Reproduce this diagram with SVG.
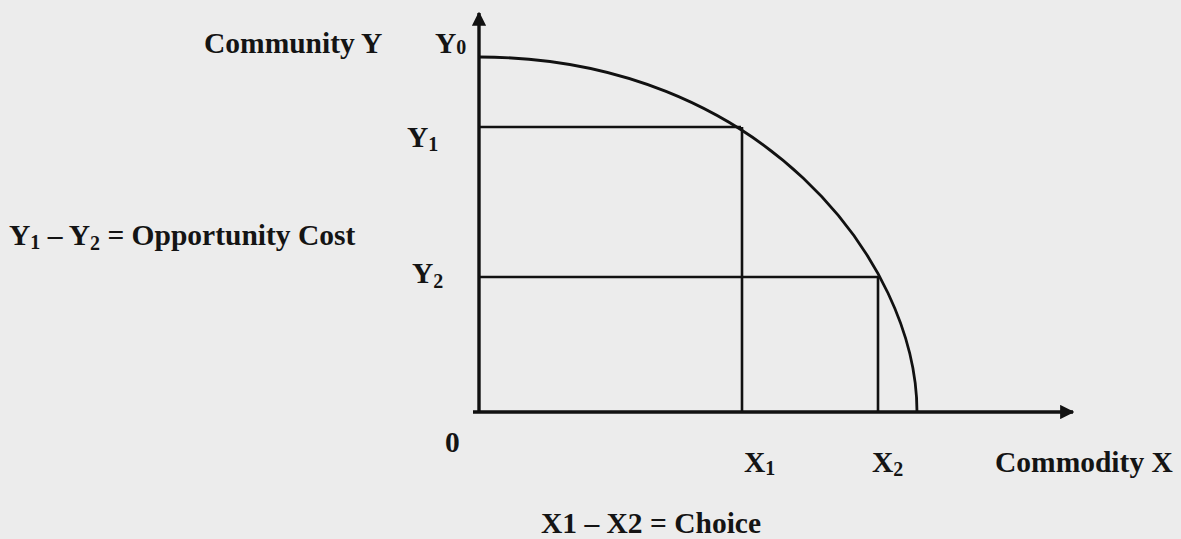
<svg xmlns="http://www.w3.org/2000/svg" width="1181" height="539" viewBox="0 0 1181 539">
<defs>
<style>
.t{font-family:"Liberation Serif","Times New Roman",serif;font-weight:bold;font-size:29.5px;fill:#141414}
.s{font-size:20px}
.ax{stroke:#111;stroke-width:3.4;fill:none}
.ln{stroke:#111;stroke-width:2.6;fill:none}
.cv{stroke:#111;stroke-width:2.8;fill:none}
</style>
<marker id="arr" viewBox="0 0 10 10" refX="9" refY="5" markerWidth="4.2" markerHeight="4.2" markerUnits="strokeWidth" orient="auto">
<path d="M0,0 L10,5 L0,10 z" fill="#111"/>
</marker>
</defs>
<rect width="1181" height="539" fill="#ececec"/>
<g id="connectors">
<line class="ax" x1="479" y1="413" x2="479" y2="13" marker-end="url(#arr)"/>
<line class="ax" x1="473" y1="412" x2="1073" y2="412" marker-end="url(#arr)"/>
<path class="cv" d="M479,57 C760,57 917,262 917,412"/>
<line class="ln" x1="479" y1="127" x2="741" y2="127"/>
<line class="ln" x1="742" y1="127" x2="742" y2="412"/>
<line class="ln" x1="479" y1="277" x2="878" y2="277"/>
<line class="ln" x1="878" y1="277" x2="878" y2="412"/>
</g>
<g id="label-community-y"><text class="t" x="204" y="53">Community Y</text></g>
<g id="label-y0"><text class="t" x="435" y="53">Y<tspan class="s" dy="1">0</tspan></text></g>
<g id="label-y1"><text class="t" x="407" y="147">Y<tspan class="s" dy="4">1</tspan></text></g>
<g id="label-y2"><text class="t" x="412" y="283">Y<tspan class="s" dy="5">2</tspan></text></g>
<g id="label-opportunity"><text class="t" x="9" y="245">Y<tspan class="s" dy="4">1</tspan><tspan dy="-4"> – Y</tspan><tspan class="s" dy="5">2</tspan><tspan dy="-5"> = Opportunity Cost</tspan></text></g>
<g id="label-origin"><text class="t" x="445" y="452">0</text></g>
<g id="label-x1"><text class="t" x="744" y="472">X<tspan class="s" dy="3">1</tspan></text></g>
<g id="label-x2"><text class="t" x="872" y="472">X<tspan class="s" dy="4">2</tspan></text></g>
<g id="label-commodity-x"><text class="t" x="995" y="472">Commodity X</text></g>
<g id="label-choice"><text class="t" x="541" y="533">X1 – X2 = Choice</text></g>
</svg>
